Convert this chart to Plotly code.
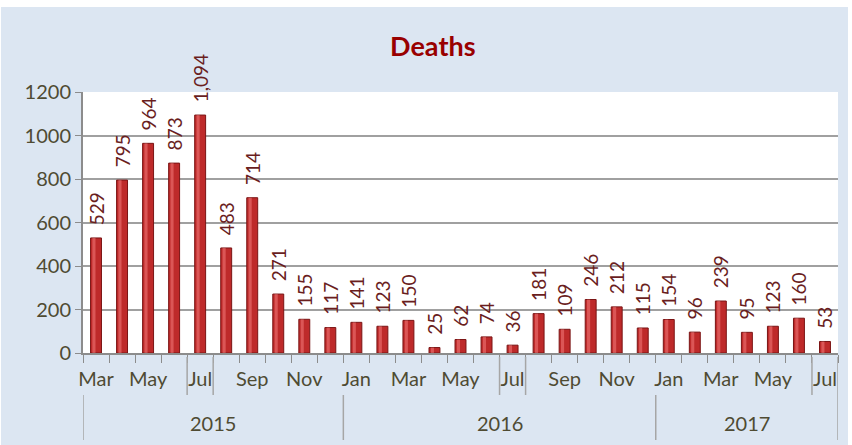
import plotly.graph_objects as go

months = ["Mar","Apr","May","Jun","Jul","Aug","Sep","Oct","Nov","Dec",
          "Jan","Feb","Mar","Apr","May","Jun","Jul","Aug","Sep","Oct","Nov","Dec",
          "Jan","Feb","Mar","Apr","May","Jun","Jul"]
years = ["2015", "2016", "2017"]
year_counts = [10, 12, 7]
deaths = [529, 795, 964, 873, 1094, 483, 714, 271, 155, 117,
          141, 123, 150, 25, 62, 74, 36, 181, 109, 246, 212, 115,
          154, 96, 239, 95, 123, 160, 53]
y_ticks = [0, 200, 400, 600, 800, 1000, 1200]

x = list(range(len(deaths)))
# leading non-breaking spaces give the gap between bar top and rotated label
labels = ["\u00a0\u00a0" + f"{v:,}" for v in deaths]

W, H = 852, 445
ML, MR, MT, MB = 83, 14, 92, 92
PH = H - MT - MB

def py(pix):
    """pixel y (from top of page) -> paper y"""
    return (H - MB - pix) / PH

fig = go.Figure()
fig.add_trace(go.Bar(
    x=x, y=deaths, width=0.42,
    marker=dict(color="#BE2A2A", line=dict(color="#7A1414", width=1)),
    text=labels, textposition="outside", textangle=-90, constraintext="none",
    textfont=dict(family="Lato, sans-serif", size=19, color="#6A1E1E"),
    cliponaxis=False, hoverinfo="skip",
))
fig.add_trace(go.Bar(
    x=x, y=deaths, width=0.12, offset=-0.14,
    marker=dict(color="rgba(255,140,140,0.45)", line=dict(width=0)),
    hoverinfo="skip",
))

tickvals = [i for i in range(len(months)) if i % 2 == 0]
ticktext = [months[i] for i in tickvals]

fig.update_layout(
    width=W, height=H,
    margin=dict(l=ML, r=MR, t=MT, b=MB),
    paper_bgcolor="#DCE6F2",
    plot_bgcolor="white",
    showlegend=False,
    barmode="overlay",
    title=dict(text="<b>Deaths</b>", x=0.508, xanchor="center", y=1 - 47 / H, yanchor="middle",
               font=dict(family="Lato, sans-serif", size=27, color="#990000")),
    font=dict(family="Lato, sans-serif", size=20, color="#4F4B33"),
)
fig.update_xaxes(
    range=[-0.5, len(deaths) - 0.5],
    tickmode="array", tickvals=tickvals, ticktext=ticktext,
    ticks="", showgrid=False, zeroline=False,
    showline=True, linecolor="#8C8C8C", linewidth=2,
    tickfont=dict(size=20, color="#4F4B33"),
    ticklabelstandoff=7,
    minor=dict(tickmode="linear", tick0=-0.5, dtick=1, ticks="outside",
               ticklen=8, tickcolor="#8C8C8C", tickwidth=1, showgrid=False),
)
fig.update_yaxes(
    range=[0, 1200], tickvals=y_ticks,
    showgrid=True, gridcolor="#A0A0A0", gridwidth=1.5,
    zeroline=False, showline=True, linecolor="#8C8C8C", linewidth=2,
    ticks="outside", ticklen=6, tickcolor="#8C8C8C",
    tickfont=dict(size=20, color="#4F4B33"),
)

line_col = "#A6A6A6"
b = -0.5
bounds = [b]
for c in year_counts:
    b += c
    bounds.append(b)
for bx in bounds:
    fig.add_shape(type="line", xref="x", yref="paper", x0=bx, x1=bx,
                  y0=py(395), y1=py(440), line=dict(color=line_col, width=1.5))
for i, yr in enumerate(years):
    fig.add_annotation(x=(bounds[i] + bounds[i + 1]) / 2, y=py(423), xref="x", yref="paper",
                       text=yr, showarrow=False, yanchor="middle",
                       font=dict(size=20, color="#4F4B33"))
for i, m in enumerate(months):
    if m == "Jul":
        for bx in (i - 0.5, i + 0.5):
            fig.add_shape(type="line", xref="x", yref="paper", x0=bx, x1=bx,
                          y0=py(357), y1=py(395), line=dict(color=line_col, width=1.5))

# white page strips at top, left and right
PW = W - ML - MR
fig.add_shape(type="rect", xref="paper", yref="paper", x0=-0.2, x1=1.1,
              y0=py(7), y1=py(-5), fillcolor="white", line=dict(width=0), layer="below")
fig.add_shape(type="rect", xref="paper", yref="paper", x0=(848 - ML) / PW, x1=(860 - ML) / PW,
              y0=py(460), y1=py(-5), fillcolor="white", line=dict(width=0), layer="below")
fig.add_shape(type="rect", xref="paper", yref="paper", x0=(-5 - ML) / PW, x1=(1 - ML) / PW,
              y0=py(460), y1=py(-5), fillcolor="white", line=dict(width=0), layer="below")

fig.write_html("out.html", config={"displayModeBar": False},
               post_script="document.body.style.margin='0';")
